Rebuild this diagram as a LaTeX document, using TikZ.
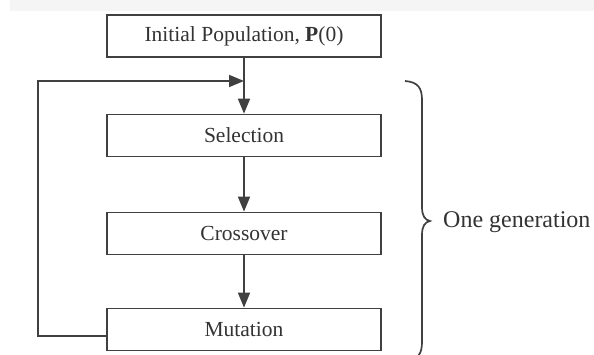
\documentclass[tikz,border=0pt]{standalone}
\usepackage{fontspec}
\setmainfont{Liberation Serif}
\usetikzlibrary{arrows.meta}
\definecolor{linegray}{HTML}{404040}
\definecolor{textgray}{HTML}{333333}
\tikzset{
  stagebox/.style={draw=linegray, line width=1.7pt, fill=white, minimum width=274pt, minimum height=42pt, inner sep=0pt, font=\fontsize{21.5}{24}\selectfont, text=textgray},
  flow/.style={draw=linegray, line width=1.7pt, -{Triangle[length=15pt,width=12pt]}},
  loopline/.style={draw=linegray, line width=1.7pt},
}
\begin{document}
\begin{tikzpicture}[x=1pt,y=-1pt]
\useasboundingbox (0,0) rectangle (594,355);
\clip (0,0) rectangle (594,355);
\fill[black!4] (10,0) rectangle (594,11);
\node[stagebox] (init) at (244,36) {Initial Population, \textbf{P}(0)};
\node[stagebox] (sel) at (244,135.5) {Selection};
\node[stagebox] (cross) at (244,233.5) {Crossover};
\node[stagebox] (mut) at (244,329.5) {Mutation};
\coordinate (mutout) at ([yshift=-6.5pt]mut.west);
\coordinate (lbot) at (38,336);
\coordinate (ltop) at (38,81);
\coordinate (merge) at (244,81);
\draw[flow] (init.south) -- (sel.north);
\draw[flow] (sel.south) -- (cross.north);
\draw[flow] (cross.south) -- (mut.north);
\draw[flow] (mutout) -- (lbot) -- (ltop) -- (merge);
\draw[loopline] (405,81) .. controls (418,82) and (422,88) .. (422,100) -- (422,207)
  .. controls (422,216) and (425,220) .. (430,221)
  .. controls (425,222) and (422,226) .. (422,235) -- (422,342)
  .. controls (422,354) and (418,360) .. (405,361);
\node[anchor=west, inner sep=0pt, font=\fontsize{24}{26}\selectfont, text=textgray] (gen) at (443,222) {One generation};
\end{tikzpicture}
\end{document}
